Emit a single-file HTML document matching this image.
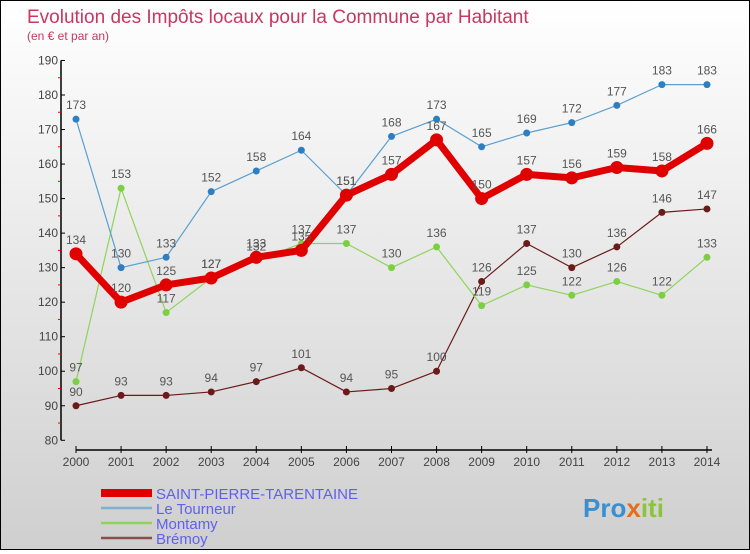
<!DOCTYPE html>
<html><head><meta charset="utf-8"><style>
html,body{margin:0;padding:0}
body{width:750px;height:550px;overflow:hidden;font-family:"Liberation Sans","DejaVu Sans",sans-serif}
#wrap{position:absolute;left:0;top:0;width:748px;height:548px;border:1px solid #000;background:linear-gradient(#ffffff,#cfcfcf)}
</style></head><body>
<div id="wrap">
<svg id="chart" width="748" height="548" xmlns="http://www.w3.org/2000/svg">
<text x="26" y="22" font-size="19" fill="#c8375f">Evolution des Impôts locaux pour la Commune par Habitant</text>
<text x="26" y="39" font-size="12" fill="#c8375f">(en € et par an)</text>
<g id="axes"></g>
<g id="series"></g>
<g id="legend"></g>
<g>
<text x="582" y="516" font-size="26" font-weight="bold" fill="#3a8fd0">Pro<tspan fill="#e07020">x</tspan><tspan fill="#8cc43c">iti</tspan></text>
</g>
</svg>
</div>
<script>
const years=[2000,2001,2002,2003,2004,2005,2006,2007,2008,2009,2010,2011,2012,2013,2014];
const yTicks=[80,90,100,110,120,130,140,150,160,170,180,190];
const stp=[134,120,125,127,133,135,151,157,167,150,157,156,159,158,166];
const tourneur=[173,130,133,152,158,164,151,168,173,165,169,172,177,183,183];
const montamy=[97,153,117,127,132,137,137,130,136,119,125,122,126,122,133];
const bremoy=[90,93,93,94,97,101,94,95,100,126,137,130,136,146,147];
const seriesNames=["SAINT-PIERRE-TARENTAINE","Le Tourneur","Montamy","Brémoy"];
const NS="http://www.w3.org/2000/svg";
const svg=document.getElementById('chart');
function xs(i){return 75+i*45.07;}
function ys(v){return 439.3-(v-80)*3.453;}
function mk(tag,attrs,parent){const e=document.createElementNS(NS,tag);for(const k in attrs)e.setAttribute(k,attrs[k]);parent.appendChild(e);return e;}
const axes=document.getElementById('axes');
let a=mk('line',{x1:60,y1:ys(190),x2:60,y2:ys(80),stroke:'#000','stroke-width':1.5},axes);


a=mk('line',{x1:75,y1:449,x2:xs(14)+5,y2:449,stroke:'#000','stroke-width':1.5},axes);


yTicks.forEach(v=>{
 mk('line',{x1:60,y1:ys(v),x2:64,y2:ys(v),stroke:'#000'},axes);
 const t=mk('text',{x:57,y:ys(v)+4,'font-size':12,fill:'#444','text-anchor':'end'},axes);
 t.textContent=v;
 
 
 if(v<190) mk('line',{x1:57,y1:ys(v+5),x2:60,y2:ys(v+5),stroke:'#e00'},axes);
});
years.forEach((y,i)=>{
 mk('line',{x1:xs(i),y1:445,x2:xs(i),y2:452,stroke:'#000'},axes);
 const t=mk('text',{x:xs(i),y:465,'font-size':12,fill:'#444','text-anchor':'middle'},axes);
 t.textContent=y;
 
 
});
const ser=document.getElementById('series');
const defs=[
 {d:bremoy,c:'#6b1a1a',w:1.2,r:3.5,n:'bremoy'},
 {d:montamy,c:'#8ed45a',w:1.2,r:3.5,n:'montamy'},
 {d:tourneur,c:'#5a9fd0',w:1.2,r:3.5,n:'le-tourneur'},
 {d:stp,c:'#e00000',w:7,r:6.5,n:'saint-pierre-tarentaine'}];
const fill={bremoy:'#6b1a1a',montamy:'#7ad040','le-tourneur':'#2f7fc0','saint-pierre-tarentaine':'#e00000'};
defs.forEach(s=>{
 const g=mk('g',{},ser);
 
 
 const p=mk('polyline',{points:s.d.map((v,i)=>xs(i)+','+ys(v)).join(' '),fill:'none',stroke:s.c,'stroke-width':s.w,'stroke-linejoin':'round'},g);
 
 
 s.d.forEach((v,i)=>{
  const c=mk('circle',{cx:xs(i),cy:ys(v),r:s.r,fill:fill[s.n]},g);
  
  
  const t=mk('text',{x:xs(i),y:ys(v)-10,'font-size':12,fill:'#555','text-anchor':'middle'},g);
  t.textContent=v;
  
  
 });
});
const leg=document.getElementById('legend');
const lc=['#e00000','#7fb0d0','#8ed45a','#8a5050'];const lw=[8,2.5,2.5,2.5];
seriesNames.forEach((n,i)=>{
 const y=492+i*15;
 const g=mk('g',{},leg);
 
 
 mk('line',{x1:100,y1:y,x2:151,y2:y,stroke:lc[i],'stroke-width':lw[i]},g);
 const t=mk('text',{x:155,y:y+6,'font-size':15,fill:'#6060ee'},g);
 t.textContent=n;
});
</script>
</body></html>
